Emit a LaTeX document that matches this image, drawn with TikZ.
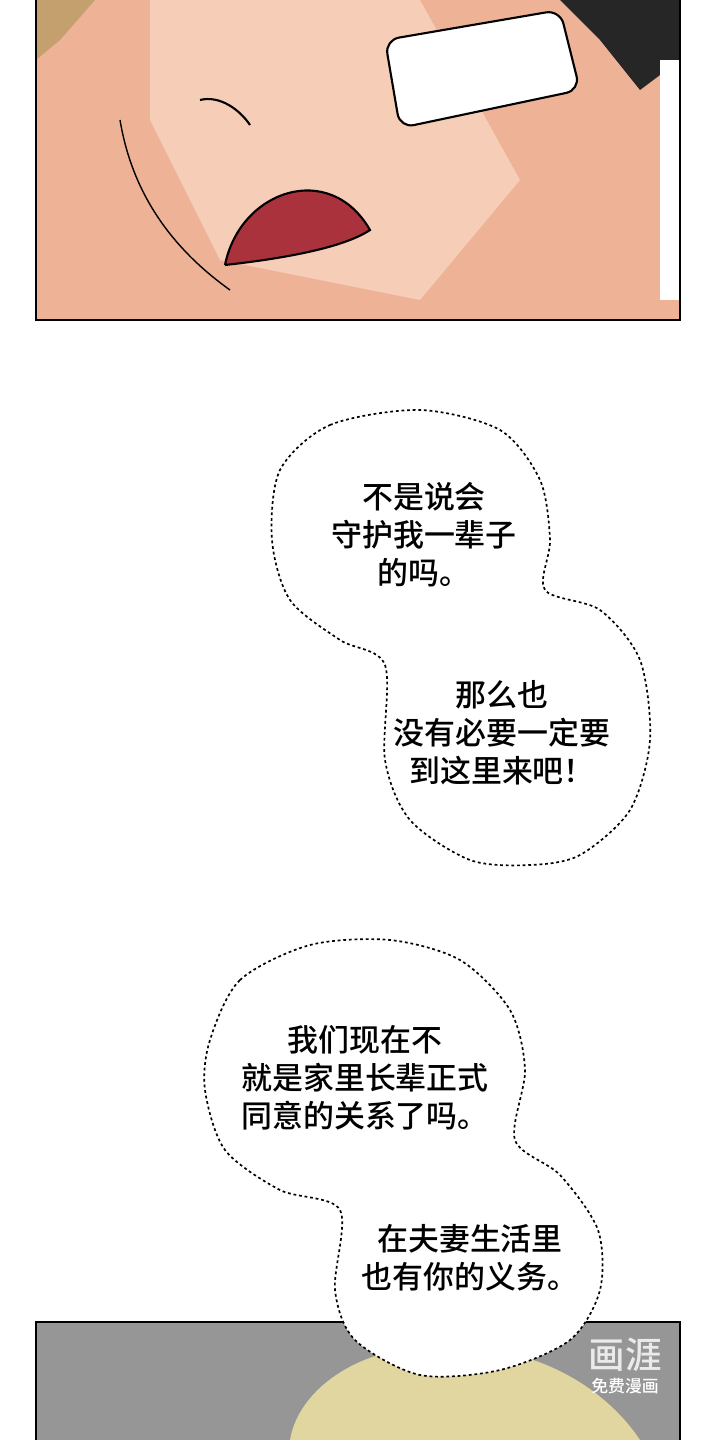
\documentclass[tikz,border=0pt]{standalone}
\usepackage{fontspec}
\usetikzlibrary{positioning}
\newfontfamily\cjk{Noto Sans CJK SC Medium}
\definecolor{skin}{RGB}{238,178,150}
\definecolor{skinlight}{RGB}{246,205,182}
\definecolor{hairtan}{RGB}{196,160,110}
\definecolor{hairblond}{RGB}{226,214,160}
\definecolor{panelgray}{RGB}{150,150,150}
\definecolor{mouthred}{RGB}{170,50,60}
\tikzset{
    bubble/.style={draw, fill=white, line width=2.4pt, dash pattern=on 4pt off 4pt},
    speech/.style={font=\cjk\fontsize{44pt}{54pt}\selectfont, align=center, inner sep=0pt},
    panel/.style={draw=black, line width=3pt}
}
\begin{document}
\begin{tikzpicture}[x=0.5mm, y=-0.5mm]
    \useasboundingbox[fill=white] (0,0) rectangle (720,1440);
    % top panel
    \fill[skin] (36,0) rectangle (680,320);
    \fill[skinlight] (150,0) -- (420,0) -- (520,180) -- (420,300) -- (220,260) -- (150,120) -- cycle;
    \fill[hairtan] (36,0) -- (95,0) -- (60,40) -- (36,60) -- cycle;
    \fill[black!85] (560,0) -- (680,0) -- (680,60) -- (640,90) -- (600,40) -- cycle;
    \fill[white, draw=black, rounded corners=20pt, line width=3pt] (385,40) -- (560,10) -- (580,90) -- (400,128) -- cycle;
    \fill[mouthred, draw=black, line width=3pt] (225,265) .. controls (240,190) and (330,160) .. (370,230) .. controls (340,250) and (270,260) .. (225,265);
    \draw[line width=3pt] (200,100) .. controls (220,95) and (240,110) .. (250,125);
    \draw[line width=2pt] (120,120) .. controls (130,180) and (160,240) .. (230,290);
    \fill[white] (660,60) -- (680,60) -- (680,300) -- (660,300) -- cycle;
    \draw[panel] (36,0) -- (36,320) -- (680,320) -- (680,0);
    % bottom panel
    \fill[panelgray] (36,1322) rectangle (680,1440);
    \fill[hairblond] (290,1440) .. controls (300,1380) and (380,1340) .. (440,1350)
        .. controls (520,1340) and (600,1380) .. (640,1440) -- cycle;
    \draw[panel] (36,1440) -- (36,1322) -- (680,1322) -- (680,1440);
    % bubbles
    \draw[bubble] plot[smooth cycle] coordinates {(280,470) (330,425) (420,410) (500,430) (540,480) (550,540) (545,590) (600,610) (640,660) (650,740) (630,810) (580,855) (530,865) (470,860) (410,820) (385,760) (385,665) (340,640) (290,600) (272,540)};
    \draw[bubble] plot[smooth cycle] coordinates {(210,1040) (240,980) (310,945) (390,940) (460,960) (510,1010) (525,1070) (515,1140) (560,1175) (598,1230) (600,1290) (570,1340) (500,1370) (420,1375) (355,1340) (335,1290) (340,1210) (280,1190) (225,1150) (205,1090)};
    \node[speech] (t1) at (424,535) {不是说会\\守护我一辈子\\的吗。};
    \node[speech] (t2) at (502,733) {那么也\\没有必要一定要\\到这里来吧！};
    \node[speech] (t3) at (365,1078) {我们现在不\\就是家里长辈正式\\同意的关系了吗。};
    \node[speech] (t4) at (470,1258) {在夫妻生活里\\也有你的义务。};
    % watermark
    \node[font=\cjk\fontsize{52pt}{56pt}\selectfont, text=white, opacity=0.8] (wm) at (625,1355) {画涯};
    \node[font=\cjk\fontsize{24pt}{26pt}\selectfont, text=white, below=2pt of wm] (wm2) {免费漫画};
\end{tikzpicture}
\end{document}
